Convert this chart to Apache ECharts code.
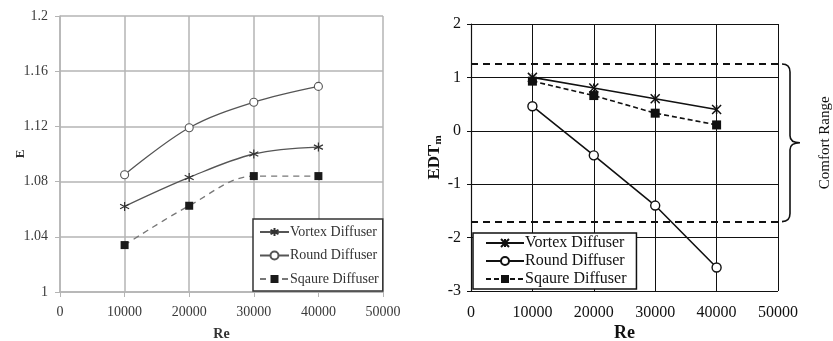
<!DOCTYPE html>
<html>
<head>
<meta charset="utf-8">
<script src="https://cdn.jsdelivr.net/npm/echarts@6/dist/echarts.min.js"></script>
<style>
  html, body { margin: 0; padding: 0; background: #fff; }
  #left { position: absolute; left: 0; top: 0; width: 420px; height: 341px; }
  #right { position: absolute; left: 420px; top: 0; width: 413px; height: 341px; }
</style>
</head>
<body>
<div id="left"></div>
<div id="right"></div>
<script>
// Reynolds numbers (x)
const re = [10000, 20000, 30000, 40000];

// Left: E
const eVortex = [1.062, 1.083, 1.100, 1.105];
const eRound = [1.085, 1.119, 1.1375, 1.149];
const eSquare = [1.034, 1.0625, 1.084, 1.084];

// Right: EDT_m
const edtVortex = [1.0, 0.8, 0.6, 0.4];
const edtRound = [0.46, -0.46, -1.40, -2.56];
const edtSquare = [0.93, 0.66, 0.33, 0.11];
const comfortRange = [1.25, -1.7];

const FONT = '"Liberation Serif", "Times New Roman", serif';
const STAR = 'path://M5,0L5,10M0.7,2.5L9.3,7.5M0.7,7.5L9.3,2.5';
const CROSS = 'path://M0,0L10,10M0,10L10,0M5,0L5,3M5,7L5,10';

const pairs = ys => re.map((x, i) => [x, ys[i]]);
const plain = v => String(v);

// ---------- left chart ----------
const left = echarts.init(document.getElementById('left'), null, { renderer: 'canvas' });
const gridGray = '#b4b4b4';
left.setOption({
    animation: false,
    backgroundColor: '#fff',
    textStyle: { fontFamily: FONT },
    grid: { left: 60, top: 16, width: 323, height: 276, outerBoundsMode: 'none', containLabel: false },
    xAxis: {
        type: 'value', min: 0, max: 50000, interval: 10000,
        name: 'Re', nameLocation: 'middle', nameGap: 35, nameMoveOverlap: false,
        nameTextStyle: { fontFamily: FONT, fontWeight: 'bold', fontSize: 14, color: '#333' },
        axisLine: { show: true, lineStyle: { color: gridGray, width: 1.5 } },
        axisTick: { show: true, length: 5, lineStyle: { color: gridGray } },
        axisLabel: { fontFamily: FONT, fontSize: 14, color: '#3a3a3a', margin: 13, formatter: plain },
        splitLine: { show: true, lineStyle: { color: gridGray, width: 1.5 } },
    },
    yAxis: {
        type: 'value', min: 1, max: 1.2, interval: 0.04,
        name: 'E', nameLocation: 'middle', nameGap: 33, nameRotate: 90, nameMoveOverlap: false,
        nameTextStyle: { fontFamily: FONT, fontWeight: 'bold', fontSize: 13, color: '#333' },
        axisLine: { show: true, lineStyle: { color: gridGray, width: 1.5 } },
        axisTick: { show: true, length: 5, lineStyle: { color: gridGray } },
        axisLabel: { fontFamily: FONT, fontSize: 14, color: '#3a3a3a', margin: 12, formatter: v => String(parseFloat(v.toFixed(2))) },
        splitLine: { show: true, lineStyle: { color: gridGray, width: 1.5 } },
    },
    legend: {
        orient: 'vertical', left: 253, top: 219,
        data: ['Vortex Diffuser', 'Round Diffuser', 'Sqaure Diffuser'],
        backgroundColor: '#fff', borderColor: '#333', borderWidth: 1.5,
        padding: [6, 4, 5, 6], itemGap: 9.5, itemWidth: 29, itemHeight: 10,
        textStyle: { fontFamily: FONT, fontSize: 14, color: '#333', padding: [0, 0, 0, -4] },
    },
    series: [
        {
            name: 'Vortex Diffuser', type: 'line', data: pairs(eVortex), smooth: 0.35,
            symbol: STAR, symbolSize: 9,
            itemStyle: { color: 'transparent', borderColor: '#333', borderWidth: 1.2 },
            lineStyle: { color: '#555', width: 1.3 },
        },
        {
            name: 'Round Diffuser', type: 'line', data: pairs(eRound), smooth: 0.35,
            symbol: 'circle', symbolSize: 8,
            itemStyle: { color: '#fff', borderColor: '#555', borderWidth: 1.1 },
            lineStyle: { color: '#555', width: 1.3 },
        },
        {
            name: 'Sqaure Diffuser', type: 'line', data: pairs(eSquare), smooth: 0.35,
            symbol: 'rect', symbolSize: 8,
            itemStyle: { color: '#1a1a1a' },
            lineStyle: { color: '#777', width: 1.3, type: [6, 5] },
        },
    ],
});

// ---------- right chart ----------
const right = echarts.init(document.getElementById('right'), null, { renderer: 'canvas' });
right.setOption({
    animation: false,
    backgroundColor: '#fff',
    textStyle: { fontFamily: FONT },
    grid: { left: 51, top: 24, width: 307, height: 267, outerBoundsMode: 'none', containLabel: false },
    xAxis: {
        type: 'value', min: 0, max: 50000, interval: 10000,
        name: 'Re', nameLocation: 'middle', nameGap: 33, nameMoveOverlap: false,
        nameTextStyle: { fontFamily: FONT, fontWeight: 'bold', fontSize: 18, color: '#111' },
        axisLine: { show: true, lineStyle: { color: '#111', width: 1.2 } },
        axisTick: { show: true, length: 4, lineStyle: { color: '#111' } },
        axisLabel: { fontFamily: FONT, fontSize: 16, color: '#111', margin: 14, formatter: plain },
        splitLine: { show: true, lineStyle: { color: '#111', width: 1 } },
    },
    yAxis: {
        type: 'value', min: -3, max: 2, interval: 1,
        name: '{a|EDT}{b|m}', nameLocation: 'middle', nameGap: 27, nameRotate: 90, nameMoveOverlap: false,
        nameTextStyle: {
            rich: {
                a: { fontFamily: FONT, fontWeight: 'bold', fontSize: 17, color: '#111' },
                b: { fontFamily: FONT, fontWeight: 'bold', fontSize: 11, color: '#111', verticalAlign: 'bottom', padding: [7, 0, 0, 0] },
            },
        },
        axisLine: { show: true, lineStyle: { color: '#111', width: 1.2 } },
        axisTick: { show: true, length: 4, lineStyle: { color: '#111' } },
        axisLabel: { fontFamily: FONT, fontSize: 16, color: '#111', margin: 10 },
        splitLine: { show: true, lineStyle: { color: '#111', width: 1 } },
    },
    legend: {
        orient: 'vertical', left: 53, top: 233,
        data: ['Vortex Diffuser', 'Round Diffuser', 'Sqaure Diffuser'],
        backgroundColor: '#fff', borderColor: '#111', borderWidth: 1.5,
        padding: [2, 10, 2, 12], itemGap: 2, itemWidth: 38, itemHeight: 10,
        textStyle: { fontFamily: FONT, fontSize: 16, color: '#111', padding: [0, 0, 0, -4] },
    },
    series: [
        {
            name: 'Vortex Diffuser', type: 'line', data: pairs(edtVortex),
            symbol: CROSS, symbolSize: 9,
            itemStyle: { color: 'transparent', borderColor: '#111', borderWidth: 1.5 },
            lineStyle: { color: '#111', width: 1.6 },
        },
        {
            name: 'Round Diffuser', type: 'line', data: pairs(edtRound),
            symbol: 'circle', symbolSize: 9,
            itemStyle: { color: '#fff', borderColor: '#111', borderWidth: 1.4 },
            lineStyle: { color: '#111', width: 1.6 },
        },
        {
            name: 'Sqaure Diffuser', type: 'line', data: pairs(edtSquare),
            symbol: 'rect', symbolSize: 9,
            itemStyle: { color: '#111' },
            lineStyle: { color: '#111', width: 1.6, type: [5, 3] },
            markLine: {
                silent: true, symbol: 'none', label: { show: false },
                lineStyle: { color: '#111', width: 2, type: [7, 5] },
                data: comfortRange.map(v => ({ yAxis: v })),
            },
        },
        {
            // curly brace + label for the comfort range
            type: 'custom', name: 'comfort', clip: false, silent: true,
            data: [[50000, comfortRange[0], comfortRange[1]]],
            renderItem: (params, api) => {
                const top = api.coord([api.value(0), api.value(1)]);
                const bot = api.coord([api.value(0), api.value(2)]);
                const x0 = top[0] + 4, xv = x0 + 8, xt = x0 + 18;
                const yt = top[1], yb = bot[1], ym = (yt + yb) / 2;
                const d = `M${x0},${yt} Q${xv},${yt} ${xv},${yt + 8} L${xv},${ym - 7} Q${xv},${ym} ${xt},${ym}`
                    + ` Q${xv},${ym} ${xv},${ym + 7} L${xv},${yb - 8} Q${xv},${yb} ${x0},${yb}`;
                return {
                    type: 'group',
                    children: [
                        { type: 'path', shape: { pathData: d }, style: { stroke: '#111', fill: 'none', lineWidth: 1.6 } },
                        {
                            type: 'text', x: xt + 25, y: ym, rotation: Math.PI / 2,
                            style: { text: 'Comfort Range', font: '15px "Liberation Serif"', fill: '#111', align: 'center', verticalAlign: 'middle' },
                        },
                    ],
                };
            },
        },
    ],
});
</script>
</body>
</html>
